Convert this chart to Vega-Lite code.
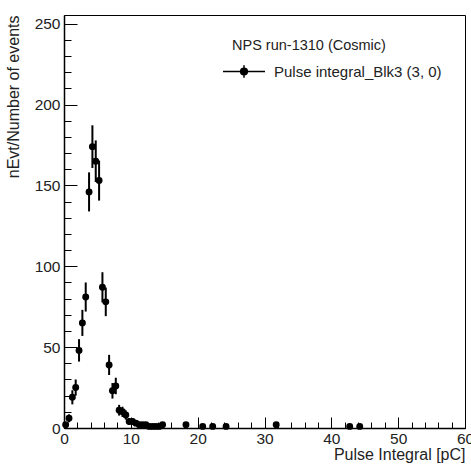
{
  "$schema": "https://vega.github.io/schema/vega-lite/v6.json",
  "width": 401,
  "height": 413,
  "autosize": {"type": "none"},
  "padding": {"left": 64, "top": 15, "right": 6, "bottom": 41},
  "background": "white",
  "config": {
    "view": {"stroke": "black", "strokeWidth": 1},
    "font": "Liberation Sans",
    "axis": {
      "labelFont": "Liberation Sans",
      "titleFont": "Liberation Sans",
      "labelColor": "#222",
      "titleColor": "#222",
      "labelFontSize": 15.5,
      "titleFontSize": 16,
      "titleFontWeight": "normal",
      "domainColor": "black",
      "tickColor": "black",
      "grid": false
    }
  },
  "data": {
    "values": [
      {"x": 0.25, "n": 2, "lo": 0.59, "hi": 3.41, "series": "Pulse integral_Blk3 (3, 0)"},
      {"x": 0.75, "n": 6, "lo": 3.55, "hi": 8.45, "series": "Pulse integral_Blk3 (3, 0)"},
      {"x": 1.25, "n": 19, "lo": 14.64, "hi": 23.36, "series": "Pulse integral_Blk3 (3, 0)"},
      {"x": 1.75, "n": 25, "lo": 20, "hi": 30, "series": "Pulse integral_Blk3 (3, 0)"},
      {"x": 2.25, "n": 48, "lo": 41.07, "hi": 54.93, "series": "Pulse integral_Blk3 (3, 0)"},
      {"x": 2.75, "n": 65, "lo": 56.94, "hi": 73.06, "series": "Pulse integral_Blk3 (3, 0)"},
      {"x": 3.25, "n": 81, "lo": 72, "hi": 90, "series": "Pulse integral_Blk3 (3, 0)"},
      {"x": 3.75, "n": 146, "lo": 133.92, "hi": 158.08, "series": "Pulse integral_Blk3 (3, 0)"},
      {"x": 4.25, "n": 174, "lo": 160.81, "hi": 187.19, "series": "Pulse integral_Blk3 (3, 0)"},
      {"x": 4.75, "n": 165, "lo": 152.15, "hi": 177.85, "series": "Pulse integral_Blk3 (3, 0)"},
      {"x": 5.25, "n": 153, "lo": 140.63, "hi": 165.37, "series": "Pulse integral_Blk3 (3, 0)"},
      {"x": 5.75, "n": 87, "lo": 77.67, "hi": 96.33, "series": "Pulse integral_Blk3 (3, 0)"},
      {"x": 6.25, "n": 78, "lo": 69.17, "hi": 86.83, "series": "Pulse integral_Blk3 (3, 0)"},
      {"x": 6.75, "n": 39, "lo": 32.76, "hi": 45.24, "series": "Pulse integral_Blk3 (3, 0)"},
      {"x": 7.25, "n": 23, "lo": 18.2, "hi": 27.8, "series": "Pulse integral_Blk3 (3, 0)"},
      {"x": 7.75, "n": 26, "lo": 20.9, "hi": 31.1, "series": "Pulse integral_Blk3 (3, 0)"},
      {"x": 8.25, "n": 11, "lo": 7.68, "hi": 14.32, "series": "Pulse integral_Blk3 (3, 0)"},
      {"x": 8.75, "n": 10, "lo": 6.84, "hi": 13.16, "series": "Pulse integral_Blk3 (3, 0)"},
      {"x": 9.25, "n": 8, "lo": 5.17, "hi": 10.83, "series": "Pulse integral_Blk3 (3, 0)"},
      {"x": 9.75, "n": 4, "lo": 2, "hi": 6, "series": "Pulse integral_Blk3 (3, 0)"},
      {"x": 10.25, "n": 4, "lo": 2, "hi": 6, "series": "Pulse integral_Blk3 (3, 0)"},
      {"x": 10.75, "n": 3, "lo": 1.27, "hi": 4.73, "series": "Pulse integral_Blk3 (3, 0)"},
      {"x": 11.25, "n": 2, "lo": 0.59, "hi": 3.41, "series": "Pulse integral_Blk3 (3, 0)"},
      {"x": 11.75, "n": 2, "lo": 0.59, "hi": 3.41, "series": "Pulse integral_Blk3 (3, 0)"},
      {"x": 12.25, "n": 2, "lo": 0.59, "hi": 3.41, "series": "Pulse integral_Blk3 (3, 0)"},
      {"x": 12.75, "n": 1, "lo": 0, "hi": 2, "series": "Pulse integral_Blk3 (3, 0)"},
      {"x": 13.25, "n": 1, "lo": 0, "hi": 2, "series": "Pulse integral_Blk3 (3, 0)"},
      {"x": 13.75, "n": 1, "lo": 0, "hi": 2, "series": "Pulse integral_Blk3 (3, 0)"},
      {"x": 14.25, "n": 1, "lo": 0, "hi": 2, "series": "Pulse integral_Blk3 (3, 0)"},
      {"x": 14.75, "n": 2, "lo": 0.59, "hi": 3.41, "series": "Pulse integral_Blk3 (3, 0)"},
      {"x": 18.25, "n": 2, "lo": 0.59, "hi": 3.41, "series": "Pulse integral_Blk3 (3, 0)"},
      {"x": 20.75, "n": 1, "lo": 0, "hi": 2, "series": "Pulse integral_Blk3 (3, 0)"},
      {"x": 22.25, "n": 1, "lo": 0, "hi": 2, "series": "Pulse integral_Blk3 (3, 0)"},
      {"x": 24.25, "n": 1, "lo": 0, "hi": 2, "series": "Pulse integral_Blk3 (3, 0)"},
      {"x": 31.75, "n": 2, "lo": 0.59, "hi": 3.41, "series": "Pulse integral_Blk3 (3, 0)"},
      {"x": 42.75, "n": 1, "lo": 0, "hi": 2, "series": "Pulse integral_Blk3 (3, 0)"},
      {"x": 44.25, "n": 1, "lo": 0, "hi": 2, "series": "Pulse integral_Blk3 (3, 0)"}
    ]
  },
  "resolve": {"axis": {"x": "independent", "y": "independent"}},
  "layer": [
    {
      "mark": {"type": "rule", "color": "black", "strokeWidth": 2},
      "encoding": {
        "x": {
          "field": "x", "type": "quantitative",
          "scale": {"domain": [0, 60], "nice": false, "zero": false},
          "axis": {
            "orient": "bottom",
            "values": [0, 2, 4, 6, 8, 10, 12, 14, 16, 18, 20, 22, 24, 26, 28, 30, 32, 34, 36, 38, 40, 42, 44, 46, 48, 50, 52, 54, 56, 58, 60],
            "labels": false, "domain": false, "tickSize": -6, "tickWidth": 1, "title": null
          }
        },
        "y": {
          "field": "lo", "type": "quantitative",
          "scale": {"domain": [0, 255.4], "nice": false},
          "axis": {
            "orient": "left",
            "values": [0, 10, 20, 30, 40, 50, 60, 70, 80, 90, 100, 110, 120, 130, 140, 150, 160, 170, 180, 190, 200, 210, 220, 230, 240, 250],
            "labels": false, "domain": false, "tickSize": -7, "tickWidth": 1, "title": null
          }
        },
        "y2": {"field": "hi"}
      }
    },
    {
      "mark": {"type": "point", "shape": "circle", "filled": true, "opacity": 1, "size": 48},
      "encoding": {
        "x": {
          "field": "x", "type": "quantitative",
          "scale": {"domain": [0, 60], "nice": false, "zero": false},
          "axis": {
            "orient": "bottom",
            "values": [0, 10, 20, 30, 40, 50, 60],
            "tickSize": -11, "tickWidth": 1, "domainWidth": 1.5,
            "labelPadding": 14, "labelFlush": false, "labelOverlap": false,
            "title": "Pulse Integral [pC]", "titleAnchor": "end", "titleAlign": "right",
            "titlePadding": 0
          }
        },
        "y": {
          "field": "n", "type": "quantitative",
          "scale": {"domain": [0, 255.4], "nice": false},
          "axis": {
            "orient": "left",
            "values": [0, 50, 100, 150, 200, 250],
            "tickSize": -13, "tickWidth": 1, "domainWidth": 1.5,
            "labelPadding": 17, "labelFlush": false, "labelOverlap": false,
            "title": "nEvt/Number of events", "titleAnchor": "end", "titleAlign": "right",
            "titlePadding": 13
          }
        },
        "color": {
          "field": "series", "type": "nominal",
          "scale": {"range": ["black"]},
          "legend": {
            "orient": "none",
            "legendX": 168,
            "legendY": 24,
            "title": "NPS run-1310 (Cosmic)",
            "titleFont": "Liberation Sans",
            "titleFontSize": 14.5,
            "titleFontWeight": "normal",
            "titleColor": "#222",
            "titlePadding": -4,
            "labelFont": "Liberation Sans",
            "labelFontSize": 15,
            "labelColor": "#222",
            "labelOffset": -2,
            "labelLimit": 300,
            "padding": 0,
            "symbolType": "M-1.476,0H0.524M-0.476,-0.3V0.3M-0.636,0A0.16,0.16 0 1,0 -0.316,0A0.16,0.16 0 1,0 -0.636,0Z",
            "symbolSize": 1764,
            "symbolStrokeWidth": 1.5,
            "symbolStrokeColor": "black",
            "symbolFillColor": "black"
          }
        }
      }
    }
  ]
}
